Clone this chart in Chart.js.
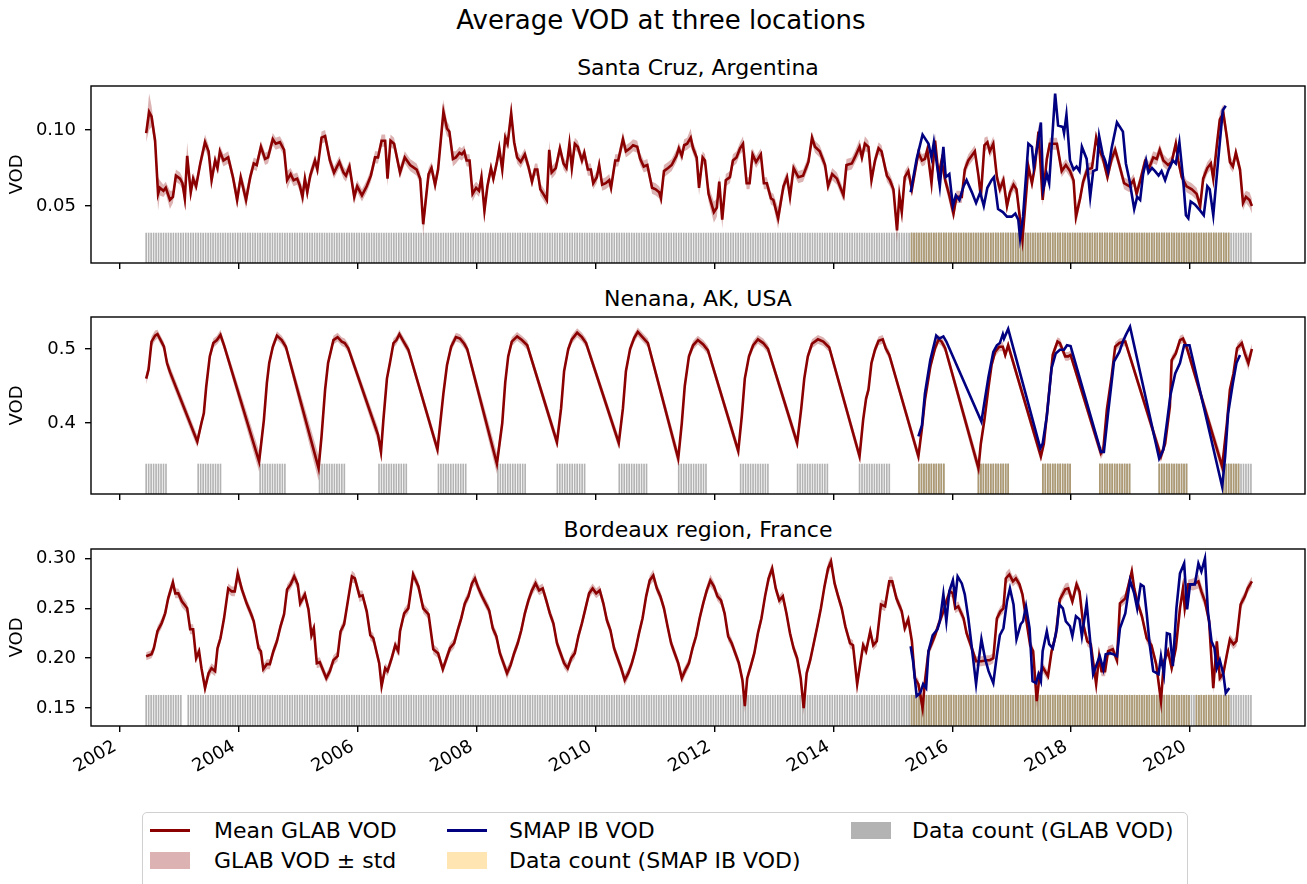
<!DOCTYPE html>
<html><head><meta charset="utf-8">
<script src="https://cdn.jsdelivr.net/npm/chart.js@4.4.0/dist/chart.umd.min.js"></script>
<style>
html,body{margin:0;padding:0;background:#fff;width:1307px;height:884px;overflow:hidden;font-family:'DejaVu Sans',sans-serif;color:#000;}
canvas{position:absolute;left:0;}
.t{position:absolute;text-align:center;white-space:nowrap;}
.lt{position:absolute;font-size:22px;line-height:22px;white-space:nowrap;}
.h{position:absolute;}
</style></head><body>
<div class="t" style="left:261px;width:800px;top:7px;font-size:26px;line-height:26px">Average VOD at three locations</div>
<div class="t" style="left:91px;width:1214px;top:57px;font-size:22px;line-height:22px">Santa Cruz, Argentina</div>
<div class="t" style="left:91px;width:1214px;top:288px;font-size:22px;line-height:22px">Nenana, AK, USA</div>
<div class="t" style="left:91px;width:1214px;top:519px;font-size:22px;line-height:22px">Bordeaux region, France</div>
<canvas id="c1" width="1307" height="225" style="top:62px"></canvas>
<canvas id="c2" width="1307" height="225" style="top:293px"></canvas>
<canvas id="c3" width="1307" height="261" style="top:525px"></canvas>
<div style="position:absolute;left:142px;top:812px;width:1046px;height:100px;border:1.3px solid #d0d0d0;border-radius:5px;box-sizing:border-box;"></div>
<div class="h" style="left:150px;top:829px;width:40px;height:3px;background:#8b0000"></div>
<div class="lt" style="left:214px;top:820px">Mean GLAB VOD</div>
<div class="h" style="left:447px;top:829px;width:40px;height:3px;background:#000080"></div>
<div class="lt" style="left:509px;top:820px">SMAP IB VOD</div>
<div class="h" style="left:851px;top:822px;width:40px;height:17px;background:#b3b3b3"></div>
<div class="lt" style="left:912px;top:820px">Data count (GLAB VOD)</div>
<div class="h" style="left:150px;top:852px;width:40px;height:17px;background:#dcb2b2"></div>
<div class="lt" style="left:214px;top:850px">GLAB VOD ± std</div>
<div class="h" style="left:447px;top:852px;width:40px;height:17px;background:#ffe5b2"></div>
<div class="lt" style="left:509px;top:850px">Data count (SMAP IB VOD)</div>
<script>
// ---------- axis data ----------
const yearTicks = [2002,2004,2006,2008,2010,2012,2014,2016,2018,2020];
const yearTickLabels = ['2002','2004','2006','2008','2010','2012','2014','2016','2018','2020'];
const xMin = 2001.512, xMax = 2021.933;
const countStart = 2002.44, countStep = 1/24, countN = 447;

const scYTicks = [0.05, 0.10], scYTickLabels = ['0.05','0.10'];
const nenYTicks = [0.4, 0.5], nenYTickLabels = ['0.4','0.5'];
const bdxYTicks = [0.15, 0.20, 0.25, 0.30], bdxYTickLabels = ['0.15','0.20','0.25','0.30'];

// ---------- Santa Cruz, Argentina: [date, mean, std] ----------
const scGlab = [[2002.44,.098,.006],[2002.49,.112,.012],[2002.53,.109,.007],[2002.59,.093,.005],[2002.64,.058,.011],[2002.67,.062,.005],[2002.73,.060,.004],[2002.77,.062,.004],[2002.84,.054,.006],[2002.89,.056,.004],[2002.94,.070,.004],[2003.01,.068,.004],[2003.05,.065,.004],[2003.09,.055,.007],[2003.13,.083,.009],[2003.19,.059,.005],[2003.23,.068,.004],[2003.28,.063,.004],[2003.35,.078,.004],[2003.43,.092,.005],[2003.49,.086,.004],[2003.54,.067,.005],[2003.60,.080,.004],[2003.64,.075,.004],[2003.68,.086,.004],[2003.74,.080,.004],[2003.82,.082,.004],[2003.90,.069,.004],[2003.97,.054,.006],[2004.03,.069,.004],[2004.12,.054,.006],[2004.19,.069,.004],[2004.25,.078,.004],[2004.30,.077,.004],[2004.37,.089,.004],[2004.44,.081,.004],[2004.49,.082,.004],[2004.57,.094,.004],[2004.62,.091,.004],[2004.69,.092,.004],[2004.76,.087,.004],[2004.81,.067,.006],[2004.87,.071,.004],[2004.92,.067,.004],[2004.98,.068,.004],[2005.02,.064,.004],[2005.07,.056,.006],[2005.11,.068,.004],[2005.15,.059,.005],[2005.20,.070,.004],[2005.28,.080,.004],[2005.32,.074,.004],[2005.39,.095,.004],[2005.45,.096,.004],[2005.53,.080,.004],[2005.60,.072,.004],[2005.69,.079,.004],[2005.76,.072,.004],[2005.80,.070,.004],[2005.86,.076,.004],[2005.94,.056,.005],[2005.99,.063,.004],[2006.07,.057,.004],[2006.15,.063,.004],[2006.22,.070,.004],[2006.29,.082,.004],[2006.34,.082,.004],[2006.40,.093,.004],[2006.46,.093,.004],[2006.50,.068,.005],[2006.55,.093,.004],[2006.61,.091,.004],[2006.71,.072,.004],[2006.79,.082,.004],[2006.88,.077,.004],[2006.99,.074,.004],[2007.05,.068,.004],[2007.10,.038,.008],[2007.19,.071,.004],[2007.24,.075,.004],[2007.30,.064,.005],[2007.35,.074,.004],[2007.44,.112,.008],[2007.50,.101,.005],[2007.54,.099,.004],[2007.60,.081,.005],[2007.65,.082,.004],[2007.71,.085,.004],[2007.75,.084,.004],[2007.79,.086,.004],[2007.83,.080,.004],[2007.88,.080,.004],[2007.93,.058,.005],[2007.99,.062,.004],[2008.04,.060,.004],[2008.08,.069,.005],[2008.13,.047,.007],[2008.18,.063,.004],[2008.24,.075,.004],[2008.28,.068,.004],[2008.34,.079,.004],[2008.38,.088,.005],[2008.43,.074,.005],[2008.48,.095,.005],[2008.52,.091,.004],[2008.58,.111,.007],[2008.63,.092,.004],[2008.68,.082,.004],[2008.74,.079,.004],[2008.81,.084,.004],[2008.87,.076,.004],[2008.93,.066,.004],[2008.98,.074,.004],[2009.02,.074,.004],[2009.07,.061,.004],[2009.12,.058,.004],[2009.18,.054,.004],[2009.22,.087,.006],[2009.26,.072,.004],[2009.33,.075,.004],[2009.40,.088,.004],[2009.46,.078,.004],[2009.51,.075,.004],[2009.56,.091,.005],[2009.60,.075,.005],[2009.65,.091,.004],[2009.70,.089,.004],[2009.77,.080,.004],[2009.81,.085,.004],[2009.87,.074,.004],[2009.92,.074,.004],[2009.96,.065,.004],[2010.02,.069,.004],[2010.06,.077,.005],[2010.11,.064,.004],[2010.17,.065,.004],[2010.23,.067,.004],[2010.26,.062,.004],[2010.33,.080,.004],[2010.38,.080,.004],[2010.46,.094,.005],[2010.51,.086,.004],[2010.58,.088,.004],[2010.63,.090,.004],[2010.70,.089,.004],[2010.75,.081,.004],[2010.81,.076,.004],[2010.87,.077,.004],[2010.95,.062,.004],[2011.01,.061,.004],[2011.07,.059,.004],[2011.10,.055,.005],[2011.15,.073,.004],[2011.22,.075,.004],[2011.28,.077,.004],[2011.32,.080,.004],[2011.36,.083,.004],[2011.40,.088,.004],[2011.45,.083,.004],[2011.49,.090,.004],[2011.54,.091,.004],[2011.60,.095,.006],[2011.64,.088,.004],[2011.70,.082,.004],[2011.74,.062,.005],[2011.80,.082,.004],[2011.84,.080,.004],[2011.90,.058,.005],[2011.99,.046,.007],[2012.04,.049,.006],[2012.08,.066,.004],[2012.13,.041,.006],[2012.19,.067,.004],[2012.26,.069,.004],[2012.31,.080,.004],[2012.37,.082,.004],[2012.43,.088,.004],[2012.48,.091,.005],[2012.54,.065,.004],[2012.59,.065,.004],[2012.64,.084,.004],[2012.70,.079,.004],[2012.78,.084,.004],[2012.83,.065,.004],[2012.88,.065,.004],[2012.95,.055,.004],[2012.99,.054,.004],[2013.07,.042,.007],[2013.16,.063,.004],[2013.22,.069,.004],[2013.27,.056,.004],[2013.33,.075,.004],[2013.41,.069,.004],[2013.49,.070,.004],[2013.58,.079,.004],[2013.64,.095,.004],[2013.69,.089,.004],[2013.77,.086,.004],[2013.86,.077,.004],[2013.91,.063,.004],[2013.98,.071,.004],[2014.06,.068,.004],[2014.17,.057,.004],[2014.22,.077,.004],[2014.31,.078,.004],[2014.36,.082,.004],[2014.44,.089,.005],[2014.48,.082,.004],[2014.53,.091,.005],[2014.59,.089,.004],[2014.64,.067,.004],[2014.70,.080,.004],[2014.76,.088,.004],[2014.81,.086,.004],[2014.90,.070,.004],[2014.95,.067,.004],[2015.01,.061,.004],[2015.07,.034,.008],[2015.11,.057,.004],[2015.15,.046,.005],[2015.20,.069,.004],[2015.26,.073,.004],[2015.32,.061,.004],[2015.37,.072,.004],[2015.43,.085,.004],[2015.49,.080,.004],[2015.54,.081,.004],[2015.58,.087,.004],[2015.65,.065,.004],[2015.71,.093,.005],[2015.77,.070,.004],[2015.82,.080,.004],[2015.88,.067,.004],[2015.95,.057,.005],[2016.02,.045,.005],[2016.07,.056,.004],[2016.16,.056,.004],[2016.21,.074,.004],[2016.27,.080,.004],[2016.38,.086,.004],[2016.44,.070,.004],[2016.48,.056,.004],[2016.54,.090,.005],[2016.59,.092,.004],[2016.63,.086,.004],[2016.69,.091,.005],[2016.75,.069,.004],[2016.80,.061,.004],[2016.86,.067,.004],[2016.92,.050,.004],[2016.97,.059,.004],[2017.03,.064,.004],[2017.08,.061,.004],[2017.14,.041,.006],[2017.18,.028,.008],[2017.22,.047,.005],[2017.28,.076,.004],[2017.34,.065,.004],[2017.39,.076,.004],[2017.45,.099,.005],[2017.52,.054,.004],[2017.59,.081,.004],[2017.64,.091,.004],[2017.76,.091,.004],[2017.84,.073,.004],[2017.91,.077,.004],[2017.98,.073,.004],[2018.04,.067,.004],[2018.08,.043,.006],[2018.15,.055,.004],[2018.20,.066,.004],[2018.27,.074,.004],[2018.35,.075,.004],[2018.42,.095,.004],[2018.47,.087,.004],[2018.53,.082,.004],[2018.61,.069,.004],[2018.68,.081,.004],[2018.74,.087,.004],[2018.81,.077,.004],[2018.89,.065,.004],[2018.98,.063,.004],[2019.05,.067,.004],[2019.10,.058,.004],[2019.17,.068,.004],[2019.24,.079,.004],[2019.31,.075,.004],[2019.38,.082,.004],[2019.44,.081,.004],[2019.49,.087,.004],[2019.55,.080,.004],[2019.63,.077,.004],[2019.69,.079,.004],[2019.76,.091,.004],[2019.80,.080,.004],[2019.86,.069,.004],[2019.94,.063,.004],[2020.03,.061,.004],[2020.11,.058,.004],[2020.17,.050,.004],[2020.22,.068,.004],[2020.29,.075,.004],[2020.35,.078,.004],[2020.39,.068,.004],[2020.45,.090,.004],[2020.50,.107,.005],[2020.56,.111,.006],[2020.62,.095,.005],[2020.67,.079,.004],[2020.72,.076,.004],[2020.77,.085,.004],[2020.84,.074,.004],[2020.89,.052,.005],[2020.94,.056,.004],[2021.00,.054,.005],[2021.04,.050,.005]];
const scSmap = [[2015.30,.059],[2015.40,.081],[2015.50,.097],[2015.60,.091],[2015.65,.082],[2015.69,.092],[2015.75,.075],[2015.79,.063],[2015.85,.089],[2015.89,.069],[2015.95,.071],[2016.01,.050],[2016.06,.057],[2016.12,.054],[2016.19,.063],[2016.24,.067],[2016.33,.059],[2016.40,.052],[2016.47,.059],[2016.53,.050],[2016.59,.062],[2016.66,.067],[2016.70,.069],[2016.77,.048],[2016.85,.046],[2016.92,.043],[2017.00,.043],[2017.06,.045],[2017.11,.041],[2017.14,.029],[2017.19,.043],[2017.28,.091],[2017.34,.089],[2017.37,.076],[2017.43,.089],[2017.49,.105],[2017.53,.061],[2017.59,.071],[2017.63,.065],[2017.73,.124],[2017.78,.103],[2017.86,.102],[2017.88,.098],[2017.92,.110],[2017.98,.080],[2018.04,.074],[2018.09,.076],[2018.14,.073],[2018.18,.089],[2018.26,.081],[2018.32,.056],[2018.37,.073],[2018.43,.074],[2018.47,.096],[2018.53,.084],[2018.57,.080],[2018.62,.073],[2018.68,.088],[2018.77,.105],[2018.87,.099],[2018.92,.078],[2018.98,.067],[2019.06,.048],[2019.11,.056],[2019.16,.054],[2019.21,.071],[2019.26,.080],[2019.30,.072],[2019.36,.075],[2019.41,.073],[2019.47,.070],[2019.52,.073],[2019.58,.067],[2019.63,.073],[2019.71,.080],[2019.76,.078],[2019.82,.092],[2019.88,.069],[2019.93,.044],[2019.97,.042],[2020.01,.053],[2020.08,.051],[2020.17,.047],[2020.23,.044],[2020.29,.063],[2020.33,.061],[2020.39,.044],[2020.47,.079],[2020.55,.113],[2020.60,.116]];
const scGlabCountPeriods = [[2002.44,2021.04]];
const scSmapCountPeriods = [[2015.29,2020.67]];

// ---------- Nenana, AK, USA ----------
const nenGlab = [[2002.44,.460,.008],[2002.48,.472,.007],[2002.53,.510,.007],[2002.59,.518,.007],[2002.63,.520,.006],[2002.67,.514,.006],[2002.74,.503,.006],[2002.79,.481,.007],[2002.84,.469,.008],
[2003.30,.375,.008],[2003.37,.400,.006],[2003.41,.413,.006],[2003.45,.449,.006],[2003.51,.490,.006],[2003.57,.508,.006],[2003.63,.512,.006],[2003.69,.519,.007],[2003.75,.505,.006],
[2004.34,.348,.014],[2004.42,.404,.007],[2004.47,.454,.006],[2004.51,.481,.006],[2004.57,.503,.006],[2004.64,.518,.006],[2004.72,.512,.006],[2004.79,.503,.006],
[2005.34,.339,.017],[2005.39,.382,.008],[2005.45,.445,.006],[2005.50,.481,.006],[2005.59,.512,.006],[2005.66,.516,.006],[2005.73,.510,.006],[2005.78,.508,.006],[2005.84,.501,.006],
[2006.34,.384,.010],[2006.39,.361,.010],[2006.43,.404,.007],[2006.49,.460,.006],[2006.54,.481,.006],[2006.60,.508,.006],[2006.65,.512,.006],[2006.70,.520,.006],[2006.77,.510,.006],[2006.85,.499,.006],
[2007.34,.364,.008],[2007.44,.440,.006],[2007.50,.478,.006],[2007.57,.503,.006],[2007.65,.516,.006],[2007.72,.514,.006],[2007.79,.507,.006],[2007.84,.500,.006],
[2008.34,.345,.014],[2008.43,.400,.007],[2008.48,.455,.006],[2008.53,.490,.006],[2008.59,.510,.006],[2008.68,.517,.006],[2008.76,.512,.006],[2008.85,.505,.006],
[2009.35,.374,.008],[2009.42,.420,.006],[2009.47,.470,.006],[2009.54,.500,.006],[2009.60,.513,.006],[2009.69,.522,.006],[2009.77,.516,.006],[2009.84,.508,.006],
[2010.39,.373,.008],[2010.46,.420,.006],[2010.51,.470,.006],[2010.58,.500,.006],[2010.65,.515,.006],[2010.71,.523,.006],[2010.80,.515,.006],[2010.88,.508,.006],
[2011.39,.352,.010],[2011.45,.400,.007],[2011.50,.450,.006],[2011.57,.490,.006],[2011.64,.505,.006],[2011.72,.512,.006],[2011.81,.506,.006],[2011.89,.498,.006],
[2012.40,.362,.008],[2012.46,.410,.006],[2012.51,.460,.006],[2012.58,.490,.006],[2012.65,.505,.006],[2012.73,.513,.006],[2012.82,.508,.006],[2012.90,.500,.006],
[2013.39,.373,.008],[2013.46,.420,.006],[2013.51,.460,.006],[2013.57,.490,.006],[2013.64,.507,.006],[2013.74,.513,.006],[2013.83,.510,.006],[2013.93,.502,.006],
[2014.44,.355,.008],[2014.50,.404,.006],[2014.55,.433,.006],[2014.59,.445,.006],[2014.64,.481,.006],[2014.70,.499,.006],[2014.76,.511,.006],[2014.83,.513,.006],[2014.88,.501,.006],[2014.94,.492,.006],
[2015.43,.355,.008],[2015.49,.393,.006],[2015.54,.431,.006],[2015.63,.476,.006],[2015.71,.501,.006],[2015.77,.513,.006],[2015.82,.510,.006],[2015.88,.501,.006],
[2016.44,.339,.010],[2016.48,.372,.007],[2016.54,.404,.006],[2016.61,.449,.006],[2016.66,.478,.006],[2016.72,.496,.006],[2016.79,.503,.006],[2016.85,.503,.006],[2016.89,.492,.006],[2016.94,.505,.006],
[2017.49,.355,.008],[2017.54,.372,.006],[2017.60,.418,.006],[2017.69,.492,.006],[2017.77,.510,.006],[2017.81,.508,.006],[2017.90,.490,.006],[2017.95,.490,.006],[2017.99,.492,.006],
[2018.50,.359,.008],[2018.54,.364,.006],[2018.60,.418,.006],[2018.68,.463,.006],[2018.74,.503,.006],[2018.81,.508,.006],[2018.91,.510,.006],
[2019.51,.355,.008],[2019.58,.372,.006],[2019.66,.422,.006],[2019.69,.485,.006],[2019.76,.494,.006],[2019.83,.512,.006],[2019.88,.514,.006],[2019.94,.503,.006],
[2020.54,.341,.010],[2020.62,.400,.007],[2020.67,.445,.006],[2020.73,.467,.006],[2020.79,.501,.006],[2020.87,.508,.006],[2020.92,.494,.008],[2020.98,.481,.010],[2021.04,.500,.007]];
const nenSmap = [[2015.43,.382],[2015.49,.397],[2015.54,.440],[2015.63,.485],[2015.73,.518],[2015.78,.514],[2015.85,.517],[2015.90,.510],
[2016.49,.402],[2016.55,.433],[2016.61,.463],[2016.69,.496],[2016.75,.505],[2016.80,.508],[2016.85,.520],[2016.87,.514],[2016.94,.527],
[2017.48,.366],[2017.52,.372],[2017.59,.409],[2017.67,.474],[2017.74,.494],[2017.81,.499],[2017.88,.499],[2017.93,.505],[2017.99,.504],
[2018.50,.361],[2018.55,.361],[2018.62,.413],[2018.72,.483],[2018.81,.496],[2018.87,.510],[2018.92,.519],[2018.99,.530],
[2019.48,.352],[2019.55,.364],[2019.61,.400],[2019.67,.438],[2019.75,.467],[2019.83,.481],[2019.90,.505],[2019.99,.505],
[2020.54,.314],[2020.59,.355],[2020.64,.413],[2020.72,.454],[2020.78,.481],[2020.84,.492]];
const nenGlabCountPeriods = [[2002.44,2002.81],[2003.30,2003.73],[2004.34,2004.81],[2005.33,2005.80],[2006.34,2006.84],[2007.33,2007.84],[2008.34,2008.85],[2009.33,2009.84],[2010.39,2010.89],[2011.39,2011.89],[2012.40,2012.90],[2013.39,2013.90],[2014.43,2014.94],[2015.44,2015.89],[2016.43,2016.94],[2017.49,2017.99],[2018.48,2019.01],[2019.48,2019.98],[2020.54,2021.04]];
const nenSmapCountPeriods = [[2015.44,2015.89],[2016.43,2016.94],[2017.49,2017.99],[2018.48,2019.01],[2019.48,2019.98],[2020.54,2020.85]];

// ---------- Bordeaux region, France ----------
const bdxGlab = [[2002.44,.202,.004],[2002.53,.204,.004],[2002.57,.210,.005],[2002.63,.227,.005],[2002.70,.235,.005],[2002.76,.245,.005],[2002.81,.260,.005],[2002.89,.276,.006],[2002.93,.265,.005],[2002.98,.265,.005],[2003.04,.257,.006],[2003.13,.250,.005],[2003.18,.229,.005],[2003.23,.229,.005],[2003.28,.200,.005],[2003.33,.207,.005],[2003.37,.190,.005],[2003.43,.170,.006],[2003.49,.185,.005],[2003.54,.190,.005],[2003.60,.187,.005],[2003.64,.210,.005],[2003.69,.220,.005],[2003.75,.240,.005],[2003.82,.270,.005],[2003.88,.267,.005],[2003.93,.267,.005],[2003.98,.285,.008],[2004.05,.269,.005],[2004.13,.255,.005],[2004.20,.245,.005],[2004.25,.237,.005],[2004.33,.210,.005],[2004.37,.207,.005],[2004.41,.189,.005],[2004.47,.194,.005],[2004.52,.194,.005],[2004.58,.207,.005],[2004.64,.217,.005],[2004.70,.232,.005],[2004.76,.244,.005],[2004.81,.269,.005],[2004.87,.274,.005],[2004.93,.282,.006],[2004.99,.274,.005],[2005.03,.255,.005],[2005.11,.264,.005],[2005.17,.249,.005],[2005.22,.223,.005],[2005.26,.230,.005],[2005.31,.195,.005],[2005.36,.196,.005],[2005.47,.180,.005],[2005.53,.187,.005],[2005.59,.198,.005],[2005.66,.202,.005],[2005.71,.227,.005],[2005.77,.234,.005],[2005.84,.260,.005],[2005.90,.282,.006],[2005.95,.280,.005],[2006.03,.262,.006],[2006.08,.263,.005],[2006.15,.247,.005],[2006.21,.223,.005],[2006.26,.220,.005],[2006.32,.205,.005],[2006.36,.195,.005],[2006.40,.172,.006],[2006.46,.190,.005],[2006.50,.187,.005],[2006.57,.200,.005],[2006.63,.213,.005],[2006.68,.207,.005],[2006.71,.227,.005],[2006.78,.245,.005],[2006.85,.250,.005],[2006.93,.284,.005],[2007.02,.272,.005],[2007.10,.250,.005],[2007.19,.244,.005],[2007.27,.209,.005],[2007.35,.205,.005],[2007.43,.189,.005],[2007.55,.210,.005],
[2007.62,.215,.005],[2007.68,.228,.005],[2007.74,.240,.005],[2007.80,.255,.005],[2007.86,.262,.005],[2007.92,.275,.005],[2007.97,.280,.006],[2008.03,.270,.005],[2008.09,.262,.005],[2008.15,.255,.005],[2008.21,.248,.005],[2008.27,.230,.005],[2008.33,.222,.005],[2008.39,.205,.005],[2008.45,.195,.005],[2008.51,.185,.006],[2008.57,.193,.005],[2008.63,.205,.005],[2008.69,.215,.005],[2008.75,.228,.005],[2008.81,.245,.005],[2008.87,.258,.005],[2008.93,.268,.005],[2008.99,.275,.006],[2009.05,.268,.005],[2009.11,.270,.005],[2009.17,.258,.005],[2009.23,.245,.005],[2009.29,.235,.005],[2009.35,.215,.005],[2009.41,.205,.005],[2009.47,.195,.005],[2009.53,.190,.005],[2009.59,.200,.005],[2009.65,.205,.005],[2009.71,.222,.005],[2009.77,.235,.005],[2009.83,.250,.005],[2009.89,.265,.005],[2009.95,.270,.005],[2010.01,.265,.005],[2010.07,.268,.005],[2010.13,.255,.005],[2010.19,.238,.005],[2010.25,.228,.005],[2010.31,.210,.005],[2010.37,.200,.005],[2010.43,.190,.005],[2010.49,.178,.006],[2010.55,.185,.005],[2010.61,.195,.005],[2010.67,.208,.005],[2010.73,.225,.005],[2010.79,.240,.005],[2010.85,.262,.005],[2010.91,.278,.005],[2010.97,.283,.006],[2011.03,.270,.005],[2011.09,.262,.005],[2011.15,.250,.005],[2011.21,.232,.005],[2011.27,.215,.005],[2011.33,.205,.005],[2011.39,.195,.005],[2011.45,.180,.006],[2011.51,.188,.005],[2011.57,.195,.005],[2011.63,.210,.005],[2011.69,.222,.005],[2011.75,.240,.005],[2011.81,.255,.005],[2011.87,.268,.005],[2011.93,.278,.006],[2011.99,.272,.005],[2012.05,.262,.005],[2012.11,.258,.005],[2012.17,.245,.005],[2012.23,.222,.005],[2012.29,.215,.005],[2012.35,.205,.005],[2012.41,.195,.005],[2012.47,.178,.005],[2012.51,.152,.007],[2012.55,.180,.005],[2012.61,.192,.005],[2012.67,.205,.005],[2012.73,.225,.005],[2012.79,.240,.005],[2012.85,.262,.005],[2012.91,.280,.005],[2012.97,.290,.006],[2013.03,.270,.005],[2013.09,.258,.005],[2013.15,.262,.005],[2013.21,.245,.005],[2013.27,.225,.005],[2013.33,.210,.005],[2013.39,.200,.005],[2013.45,.180,.005],[2013.50,.150,.007],[2013.55,.185,.005],[2013.61,.198,.005],[2013.67,.215,.005],[2013.73,.232,.005],[2013.79,.250,.005],[2013.85,.272,.005],[2013.91,.290,.006],[2013.96,.297,.006],[2014.02,.275,.005],[2014.08,.262,.005],[2014.14,.250,.005],[2014.20,.232,.005],
[2014.28,.215,.005],[2014.33,.213,.005],[2014.40,.174,.006],[2014.50,.213,.005],[2014.55,.207,.005],[2014.62,.227,.005],[2014.67,.213,.005],[2014.73,.217,.005],[2014.80,.254,.005],[2014.87,.252,.005],[2014.94,.277,.005],[2014.99,.277,.005],[2015.06,.260,.005],[2015.15,.247,.005],[2015.20,.230,.005],[2015.26,.239,.005],[2015.32,.217,.005],[2015.37,.180,.005],[2015.43,.174,.005],[2015.50,.150,.008],[2015.54,.177,.005],[2015.60,.207,.005],[2015.65,.214,.005],[2015.71,.223,.005],[2015.77,.234,.005],[2015.85,.247,.005],[2015.90,.257,.005],[2015.96,.267,.005],[2016.01,.265,.005],[2016.05,.250,.005],[2016.10,.252,.005],[2016.19,.240,.005],[2016.24,.225,.005],[2016.30,.215,.005],[2016.40,.197,.005],[2016.49,.197,.005],[2016.58,.198,.005],[2016.63,.198,.005],[2016.69,.200,.005],[2016.75,.240,.005],[2016.81,.247,.005],[2016.86,.250,.005],[2016.90,.280,.006],[2016.96,.284,.006],[2017.02,.277,.005],[2017.07,.280,.005],[2017.13,.274,.005],[2017.18,.264,.005],[2017.24,.240,.005],[2017.31,.213,.005],[2017.36,.207,.005],[2017.42,.157,.008],[2017.47,.184,.005],[2017.53,.190,.005],[2017.61,.182,.005],[2017.67,.207,.005],[2017.74,.223,.005],[2017.81,.259,.005],[2017.90,.269,.006],[2017.95,.270,.006],[2018.02,.257,.005],[2018.09,.274,.006],[2018.14,.267,.005],[2018.20,.235,.005],[2018.27,.217,.005],[2018.33,.214,.005],[2018.42,.174,.006],[2018.47,.202,.005],[2018.51,.187,.005],[2018.57,.187,.005],[2018.62,.207,.005],[2018.70,.209,.005],[2018.77,.198,.005],[2018.82,.255,.005],[2018.91,.260,.005],[2018.98,.277,.005],[2019.02,.287,.007],[2019.06,.270,.005],[2019.11,.257,.005],[2019.19,.242,.005],[2019.27,.220,.005],[2019.35,.213,.005],[2019.43,.194,.005],[2019.51,.157,.008],[2019.56,.197,.005],[2019.63,.207,.005],[2019.69,.190,.005],[2019.76,.210,.005],[2019.83,.250,.005],[2019.88,.270,.005],[2019.91,.250,.005],[2019.97,.274,.005],[2020.05,.274,.006],[2020.14,.277,.007],[2020.19,.267,.007],[2020.25,.257,.006],[2020.32,.237,.005],[2020.39,.170,.006],[2020.45,.217,.005],[2020.50,.180,.005],[2020.56,.185,.005],[2020.62,.204,.005],[2020.67,.219,.005],[2020.73,.214,.005],[2020.78,.217,.005],[2020.85,.254,.005],[2020.92,.262,.005],[2020.97,.270,.005],[2021.04,.277,.005]];
const bdxSmap = [[2015.30,.212],[2015.34,.197],[2015.40,.162],[2015.46,.165],[2015.51,.174],[2015.56,.170],[2015.60,.207],[2015.67,.223],[2015.75,.229],[2015.79,.237],[2015.85,.264],[2015.90,.237],[2015.95,.267],[2016.01,.278],[2016.05,.260],[2016.09,.282],[2016.16,.275],[2016.21,.264],[2016.27,.240],[2016.33,.210],[2016.40,.174],[2016.45,.200],[2016.49,.219],[2016.55,.200],[2016.61,.187],[2016.69,.175],[2016.75,.203],[2016.80,.223],[2016.86,.230],[2016.92,.257],[2016.97,.270],[2017.03,.254],[2017.08,.219],[2017.15,.234],[2017.19,.237],[2017.24,.252],[2017.30,.230],[2017.35,.177],[2017.41,.175],[2017.45,.184],[2017.49,.177],[2017.52,.207],[2017.59,.227],[2017.63,.214],[2017.69,.210],[2017.76,.230],[2017.80,.254],[2017.86,.250],[2017.91,.237],[2017.98,.232],[2018.02,.222],[2018.08,.242],[2018.14,.239],[2018.18,.222],[2018.26,.255],[2018.32,.217],[2018.37,.184],[2018.43,.194],[2018.48,.202],[2018.54,.189],[2018.58,.204],[2018.65,.205],[2018.71,.204],[2018.77,.202],[2018.82,.230],[2018.91,.245],[2018.99,.278],[2019.06,.265],[2019.11,.250],[2019.17,.274],[2019.22,.272],[2019.27,.245],[2019.32,.214],[2019.38,.187],[2019.47,.184],[2019.51,.202],[2019.56,.184],[2019.61,.225],[2019.66,.224],[2019.71,.192],[2019.77,.250],[2019.83,.285],[2019.90,.295],[2019.95,.249],[2020.00,.274],[2020.08,.274],[2020.14,.295],[2020.19,.287],[2020.25,.300],[2020.30,.247],[2020.36,.217],[2020.41,.210],[2020.45,.190],[2020.50,.198],[2020.56,.184],[2020.60,.165],[2020.66,.170]];
const bdxGlabCountPeriods = [[2002.44,2003.03],[2003.13,2021.04]];
const bdxSmapCountPeriods = [[2015.29,2020.00],[2020.10,2020.67]];

// ---------- drawing ----------
Chart.defaults.font.family = "'DejaVu Sans', sans-serif";
Chart.defaults.color = '#000';

const boxPlugin = { id:'box', afterDraw(chart){ const {ctx, chartArea:a} = chart; ctx.save(); ctx.strokeStyle='#000'; ctx.lineWidth=1.4; ctx.strokeRect(a.left, a.top, a.right-a.left, a.bottom-a.top); ctx.restore(); } };

function countBars(periods){
  const pts = [];
  for (let i = 0; i < countN; i++) {
    const t = countStart + i*countStep;
    if (periods.some(p => t >= p[0]-1e-6 && t <= p[1]+1e-6)) pts.push({x:t, y:1});
  }
  return pts;
}

function makePanel(id, cfg){
  const mean = cfg.glab.map(d => ({x:d[0], y:d[1]}));
  const lo = cfg.glab.map(d => ({x:d[0], y:d[1]-d[2]}));
  const hi = cfg.glab.map(d => ({x:d[0], y:d[1]+d[2]}));
  const smap = cfg.smap.map(d => ({x:d[0], y:d[1]}));
  const tickGrid = () => ({display:true, offset:false, drawOnChartArea:false, drawTicks:true, tickLength:6, color:'#000', lineWidth:1.4});
  return new Chart(document.getElementById(id), {
    type:'line',
    data:{datasets:[
      {type:'bar', data:countBars(cfg.glabCount), yAxisID:'yc', backgroundColor:'rgba(128,128,128,0.6)', barThickness:1, grouped:false, order:10},
      {type:'bar', data:countBars(cfg.smapCount), yAxisID:'yc', backgroundColor:'#ae9a72', barThickness:1, grouped:false, order:9},
      {data:lo, borderWidth:0, borderColor:'rgba(0,0,0,0)', pointRadius:0, fill:false, order:8},
      {data:hi, borderWidth:0, borderColor:'rgba(0,0,0,0)', pointRadius:0, fill:'-1', backgroundColor:'rgba(139,0,0,0.3)', order:7},
      {data:mean, borderColor:'#8b0000', borderWidth:2.6, pointRadius:0, fill:false, order:2},
      {data:smap, borderColor:'#000080', borderWidth:2.6, pointRadius:0, fill:false, order:1}
    ]},
    options:{
      responsive:false, animation:false, devicePixelRatio:1, events:[],
      layout:{padding:{top:24, left:0, right:2, bottom:0}},
      plugins:{legend:{display:false}, tooltip:{enabled:false}},
      scales:{
        x:{type:'linear', min:xMin, max:xMax, offset:false,
           afterBuildTicks:s => { s.ticks = yearTicks.map(v => ({value:v})); },
           afterFit:s => { s.height = cfg.xh; },
           grid:tickGrid(), border:{display:false},
           ticks:{display:cfg.showX, font:{size:18}, color:'#000', minRotation:30, maxRotation:30, padding:4, labelOffset:-5, autoSkip:false,
                  callback:(v,i) => yearTickLabels[i]}},
        y:{type:'linear', min:cfg.ymin, max:cfg.ymax,
           afterBuildTicks:s => { s.ticks = cfg.yt.map(v => ({value:v})); },
           afterFit:s => { s.width = 91; },
           grid:tickGrid(), border:{display:false},
           ticks:{font:{size:18}, color:'#000', padding:9, callback:(v,i) => cfg.ytl[i]},
           title:{display:true, text:'VOD', font:{size:18}, color:'#000', padding:{top:7, bottom:0}}},
        yc:{type:'linear', display:false, min:0, max:cfg.cmax}
      }
    },
    plugins:[boxPlugin]
  });
}

makePanel('c1', {glab:scGlab, smap:scSmap, glabCount:scGlabCountPeriods, smapCount:scSmapCountPeriods,
  ymin:0.0125, ymax:0.129, yt:scYTicks, ytl:scYTickLabels, cmax:5.9, xh:24, showX:false});
makePanel('c2', {glab:nenGlab, smap:nenSmap, glabCount:nenGlabCountPeriods, smapCount:nenSmapCountPeriods,
  ymin:0.3041, ymax:0.5432, yt:nenYTicks, ytl:nenYTickLabels, cmax:5.9, xh:24, showX:false});
makePanel('c3', {glab:bdxGlab, smap:bdxSmap, glabCount:bdxGlabCountPeriods, smapCount:bdxSmapCountPeriods,
  ymin:0.132, ymax:0.3095, yt:bdxYTicks, ytl:bdxYTickLabels, cmax:5.75, xh:60, showX:true});
</script>
</body></html>
